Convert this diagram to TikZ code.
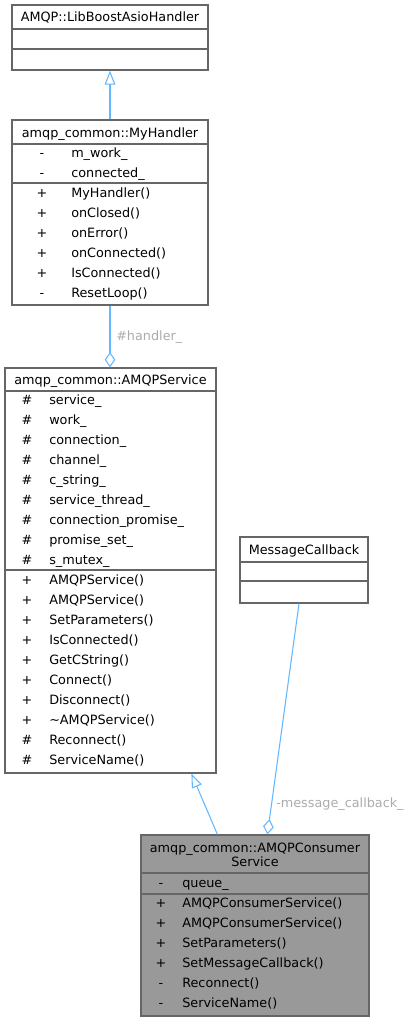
\documentclass[tikz,border=0pt]{standalone}
\usepackage{fontspec}
\setmainfont{DejaVu Sans}
\usetikzlibrary{arrows.meta,fit,calc}
\definecolor{boxline}{HTML}{666666}
\definecolor{edge}{HTML}{63B8FF}
\definecolor{lbl}{HTML}{ABABAB}
\definecolor{mainfill}{HTML}{999999}
\tikzset{
  cls/.style={draw=boxline, line width=0.9pt, inner sep=0pt, fill=white},
  sep/.style={draw=boxline, line width=0.9pt},
  txt/.style={font=\fontsize{9.6}{11}\selectfont, inner sep=0pt, text=black},
  ttl/.style={txt, anchor=base},
  sym/.style={txt, anchor=base},
  mem/.style={txt, anchor=base west},
  elbl/.style={txt, text=lbl, anchor=base west},
  conn/.style={draw=edge, line width=0.8pt},
  inh/.style={conn, -{Triangle[open, length=10.5pt, width=8pt, fill=white]}},
  agg/.style={conn, -{Diamond[open, length=11.5pt, width=8pt, fill=white]}},
}
\begin{document}
\begin{tikzpicture}[x=0.75pt,y=-0.75pt]
\useasboundingbox (0,0) rectangle (415,1021);

% ---- AMQP::LibBoostAsioHandler
\node[cls, fit={(12,5) (208,70)}] (lib) {};
\draw[sep] (12,29) -- (208,29);
\draw[sep] (12,49) -- (208,49);
\node[ttl] (libt) at (110,21.5) {AMQP::LibBoostAsioHandler};

% ---- amqp_common::MyHandler
\node[cls, fit={(12,120) (208,305)}] (myh) {};
\draw[sep] (12,144) -- (208,144);
\draw[sep] (12,183) -- (208,183);
\node[ttl] (myht) at (110,137) {amqp\_common::MyHandler};
\foreach \s/\n [count=\i] in {-/m\_work\_, -/connected\_, +/MyHandler(), +/onClosed(), +/onError(), +/onConnected(), +/IsConnected(), -/ResetLoop()}{
  \pgfmathsetmacro{\yy}{157.5+20*(\i-1)}
  \node[sym] (myhs\i) at (42,\yy) {\s};
  \node[mem] (myhm\i) at (71,\yy) {\n};
}

% ---- amqp_common::AMQPService
\node[cls, fit={(5,368) (216,773)}] (svc) {};
\draw[sep] (5,391) -- (216,391);
\draw[sep] (5,570) -- (216,570);
\node[ttl] (svct) at (110.5,384.5) {amqp\_common::AMQPService};
\foreach \s/\n [count=\i] in {\#/service\_, \#/work\_, \#/connection\_, \#/channel\_, \#/c\_string\_, \#/service\_thread\_, \#/connection\_promise\_, \#/promise\_set\_, \#/s\_mutex\_, +/AMQPService(), +/AMQPService(), +/SetParameters(), +/IsConnected(), +/GetCString(), +/Connect(), +/Disconnect(), +/\textasciitilde AMQPService(), \#/Reconnect(), \#/ServiceName()}{
  \pgfmathsetmacro{\yy}{404.5+20*(\i-1)}
  \node[sym] (svcs\i) at (27,\yy) {\s};
  \node[mem] (svcm\i) at (49,\yy) {\n};
}

% ---- MessageCallback
\node[cls, fit={(240,537) (368,603)}] (msg) {};
\draw[sep] (240,562) -- (368,562);
\draw[sep] (240,581) -- (368,581);
\node[ttl] (msgt) at (304,554.5) {MessageCallback};

% ---- amqp_common::AMQPConsumerService
\node[cls, fill=mainfill, fit={(141,835) (369,1016)}] (cons) {};
\draw[sep] (141,873) -- (369,873);
\draw[sep] (141,894) -- (369,894);
\node[ttl] (const1) at (255,852.5) {amqp\_common::AMQPConsumer};
\node[ttl] (const2) at (255,866.5) {Service};
\foreach \s/\n [count=\i] in {-/queue\_, +/AMQPConsumerService(), +/AMQPConsumerService(), +/SetParameters(), +/SetMessageCallback(), -/Reconnect(), -/ServiceName()}{
  \pgfmathsetmacro{\yy}{887.5+20*(\i-1)}
  \node[sym] (conss\i) at (161,\yy) {\s};
  \node[mem] (consm\i) at (182,\yy) {\n};
}

% ---- connectors
\draw[inh] (myh.north) -- (lib.south);
\draw[agg] (myh.south) -- (myh.south |- svc.north);
\node[elbl] (hlbl) at (116,340.5) {\#handler\_};
\draw[inh] ($(cons.north west)+(77,0)$) -- ($(svc.south west)+(187,0)$);
\draw[agg] ($(msg.south)+(-5,0)$) -- ($(cons.north west)+(127,0)$);
\node[elbl] (mlbl) at (276,807.5) {-message\_callback\_};
\end{tikzpicture}
\end{document}
